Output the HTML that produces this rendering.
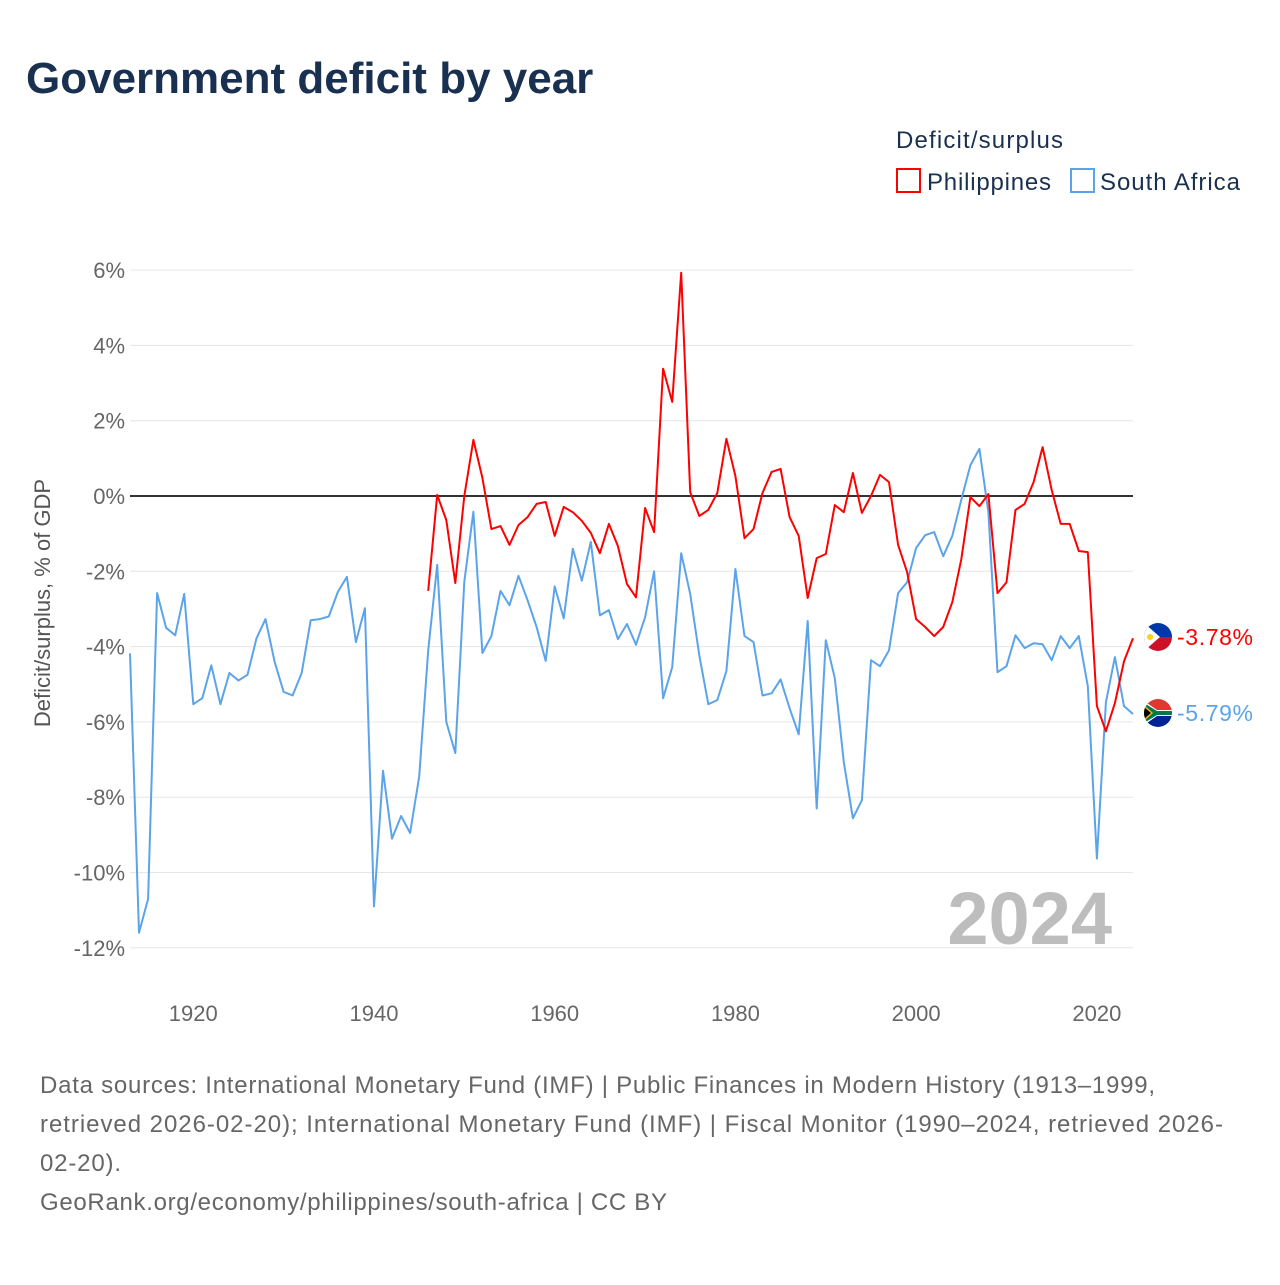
<!DOCTYPE html>
<html><head><meta charset="utf-8">
<style>
html,body{margin:0;padding:0;background:#fff;}
body{width:1280px;height:1280px;overflow:hidden;position:relative;font-family:"Liberation Sans",sans-serif;}
svg text{font-family:"Liberation Sans",sans-serif;}
</style></head>
<body>
<svg id="chart" width="1280" height="1280" viewBox="0 0 1280 1280" xmlns="http://www.w3.org/2000/svg">
<text x="26" y="93" font-size="44" font-weight="bold" fill="#1a3050">Government deficit by year</text>
<text x="896" y="148" font-size="24" fill="#1a3050" textLength="167">Deficit/surplus</text>
<g>
<rect x="897" y="169" width="23" height="23" fill="none" stroke="#ff0000" stroke-width="2"/>
<text x="927" y="190" font-size="24" fill="#1a3050" textLength="124">Philippines</text></g>
<g>
<rect x="1071" y="169" width="23" height="23" fill="none" stroke="#5ba4ea" stroke-width="2"/>
<text x="1100" y="190" font-size="24" fill="#1a3050" textLength="140">South Africa</text></g>
<text transform="translate(50,603) rotate(-90)" text-anchor="middle" font-size="22" fill="#555">Deficit/surplus, % of GDP</text>
<g id="grid"></g>
<text x="1112" y="944" text-anchor="end" font-size="74" font-weight="bold" fill="#bdbdbd">2024</text>
<g id="series"></g>
<g>
<clipPath id="cph"><circle cx="1158" cy="637" r="14"/></clipPath>
<g clip-path="url(#cph)"><rect x="1144" y="623" width="28" height="14" fill="#0038a8"/><rect x="1144" y="637" width="28" height="14" fill="#ce1126"/><polygon points="1144,623 1160,637 1144,651" fill="#fff"/><circle cx="1150" cy="637" r="3" fill="#fcd116"/></g></g>
<g>
<clipPath id="csa"><circle cx="1158" cy="713" r="14"/></clipPath>
<g clip-path="url(#csa)"><rect x="1144" y="699" width="28" height="14" fill="#de3831"/><rect x="1144" y="713" width="28" height="14" fill="#002395"/><polygon points="1144,701 1157,710 1172,710 1172,716 1157,716 1144,725" fill="#fff"/><polygon points="1144,703 1157,711 1172,711 1172,715 1157,715 1144,723" fill="#007a4d"/><polygon points="1144,705 1153,713 1144,721" fill="#ffb612"/><polygon points="1144,707 1151,713 1144,719" fill="#000"/></g></g>
<text x="1177" y="645" font-size="23" fill="#ff0000" textLength="76">-3.78%</text>
<text x="1177" y="721" font-size="23" fill="#5ba4ea" textLength="76">-5.79%</text>
<g font-size="24" fill="#666">
<text x="40" y="1093" textLength="1115">Data sources: International Monetary Fund (IMF) | Public Finances in Modern History (1913–1999,</text>
<text x="40" y="1132" textLength="1183">retrieved 2026-02-20); International Monetary Fund (IMF) | Fiscal Monitor (1990–2024, retrieved 2026-</text>
<text x="40" y="1171" textLength="81">02-20).</text>
<text x="40" y="1210" textLength="627">GeoRank.org/economy/philippines/south-africa | CC BY</text>
</g>
</svg>
<script>
const yTicks=[6,4,2,0,-2,-4,-6,-8,-10,-12];
const yTickLabels=["6%","4%","2%","0%","-2%","-4%","-6%","-8%","-10%","-12%"];
const xTicks=[1920,1940,1960,1980,2000,2020];
const saStart=1913;
const saValues=[-4.18,-11.6,-10.7,-2.58,-3.5,-3.7,-2.6,-5.53,-5.37,-4.5,-5.53,-4.7,-4.9,-4.75,-3.78,-3.27,-4.4,-5.2,-5.3,-4.7,-3.3,-3.27,-3.2,-2.55,-2.15,-3.88,-2.98,-10.9,-7.3,-9.1,-8.5,-8.95,-7.45,-4.1,-1.83,-6.0,-6.83,-2.28,-0.42,-4.17,-3.72,-2.52,-2.9,-2.12,-2.77,-3.48,-4.38,-2.4,-3.25,-1.4,-2.25,-1.22,-3.17,-3.03,-3.8,-3.4,-3.95,-3.22,-2.0,-5.37,-4.55,-1.52,-2.6,-4.23,-5.53,-5.42,-4.65,-1.94,-3.72,-3.88,-5.3,-5.24,-4.87,-5.64,-6.33,-3.32,-8.3,-3.83,-4.84,-7.07,-8.56,-8.08,-4.36,-4.52,-4.1,-2.58,-2.29,-1.38,-1.04,-0.96,-1.6,-1.06,-0.1,0.82,1.25,-0.43,-4.68,-4.52,-3.7,-4.04,-3.91,-3.94,-4.36,-3.72,-4.04,-3.72,-5.05,-9.63,-5.48,-4.28,-5.58,-5.79];
const phStart=1946;
const phValues=[-2.52,0.03,-0.64,-2.31,0,1.49,0.48,-0.88,-0.8,-1.3,-0.77,-0.56,-0.21,-0.16,-1.06,-0.29,-0.43,-0.66,-0.98,-1.52,-0.74,-1.33,-2.34,-2.69,-0.32,-0.96,3.38,2.5,5.93,0.1,-0.53,-0.37,0.08,1.52,0.53,-1.12,-0.88,0.08,0.64,0.72,-0.56,-1.06,-2.71,-1.65,-1.54,-0.24,-0.43,0.61,-0.45,0,0.56,0.37,-1.3,-2.02,-3.27,-3.48,-3.72,-3.48,-2.82,-1.68,-0.03,-0.27,0.05,-2.58,-2.29,-0.37,-0.21,0.37,1.3,0.16,-0.74,-0.74,-1.46,-1.49,-5.58,-6.25,-5.5,-4.39,-3.78];

const NS="http://www.w3.org/2000/svg";
const X=y=>130+(y-1913)*(1003/111);
const Y=v=>496-v*37.65;
const grid=document.getElementById('grid');
yTicks.forEach((t,i)=>{
  const l=document.createElementNS(NS,'line');
  
  
  l.setAttribute('x1',130);l.setAttribute('x2',1133);
  l.setAttribute('y1',Y(t));l.setAttribute('y2',Y(t));
  l.setAttribute('stroke',t===0?'#333':'#e6e6e6');l.setAttribute('stroke-width',t===0?2:1);
  grid.appendChild(l);
  const tx=document.createElementNS(NS,'text');
  
  
  tx.setAttribute('x',125);tx.setAttribute('y',Y(t)+8);
  tx.setAttribute('text-anchor','end');tx.setAttribute('font-size','22');tx.setAttribute('fill','#666');
  tx.textContent=yTickLabels[i];grid.appendChild(tx);
});
xTicks.forEach(t=>{
  const tx=document.createElementNS(NS,'text');
  
  
  tx.setAttribute('x',X(t));tx.setAttribute('y',1021);
  tx.setAttribute('text-anchor','middle');tx.setAttribute('font-size','22');tx.setAttribute('fill','#666');
  tx.textContent=t;grid.appendChild(tx);
});
const ser=document.getElementById('series');
function line(start,vals,color,name){
  const p=document.createElementNS(NS,'polyline');
  
  
  p.setAttribute('points',vals.map((v,i)=>X(start+i).toFixed(1)+','+Y(v).toFixed(1)).join(' '));
  p.setAttribute('fill','none');p.setAttribute('stroke',color);p.setAttribute('stroke-width','2');p.setAttribute('stroke-linejoin','round');
  ser.appendChild(p);
}
line(saStart,saValues,'#5ba4ea','south-africa-line');
line(phStart,phValues,'#ff0000','philippines-line');
</script>
</body></html>
